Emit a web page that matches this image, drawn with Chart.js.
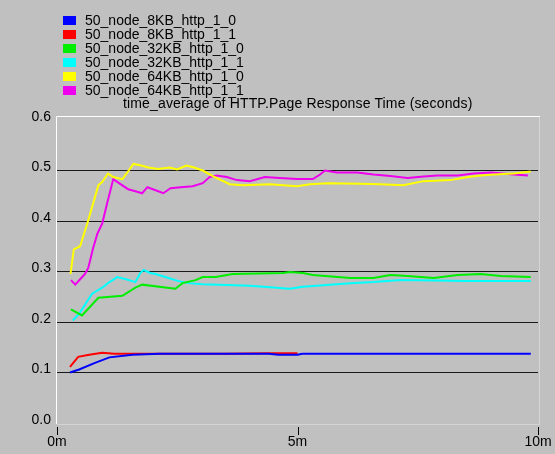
<!DOCTYPE html>
<html>
<head>
<meta charset="utf-8">
<script src="https://cdn.jsdelivr.net/npm/chart.js@4/dist/chart.umd.min.js"></script>
<style>
  body { margin: 0; background: #c0c0c0; }
  #wrap { position: relative; width: 555px; height: 454px; }
  canvas { display: block; }
  #legend { position: absolute; left: 63px; top: 13px; font: 14px Arial, "Liberation Sans", sans-serif; color: #000; }
  .row { height: 14px; line-height: 14px; display: flex; align-items: center; white-space: nowrap; }
  .sw { width: 13px; height: 9px; margin-right: 9px; }
  #title { position: absolute; left: 123px; top: 95px; font: 14px Arial, "Liberation Sans", sans-serif; letter-spacing: 0.15px; color: #000; white-space: nowrap; }
</style>
</head>
<body>
<div id="wrap">
  <canvas id="chart" width="555" height="454"></canvas>
  <div id="legend"></div>
  <div id="title">time_average of HTTP.Page Response Time (seconds)</div>
</div>
<script>
// series names and colours
const seriesNames = ['50_node_8KB_http_1_0', '50_node_8KB_http_1_1', '50_node_32KB_http_1_0',
                     '50_node_32KB_http_1_1', '50_node_64KB_http_1_0', '50_node_64KB_http_1_1'];
const seriesColors = ['#0000ff', '#ff0000', '#00ee00', '#00ffff', '#ffff00', '#ee00ee'];

// axis ticks
const xTicks = [0, 5, 10];
const yTicks = [0, 0.1, 0.2, 0.3, 0.4, 0.5, 0.6];

// each series: sample times (minutes) and values (seconds)
const blueTime  = [0.27, 0.46, 0.79, 1.09, 1.57, 2.13, 4.4, 4.6, 5.0, 5.1, 9.85];
const blueValue = [0.100, 0.106, 0.119, 0.130, 0.135, 0.137, 0.137, 0.135, 0.135, 0.137, 0.137];

const redTime  = [0.27, 0.44, 0.67, 0.94, 1.19, 1.9, 2.6, 3.5, 4.4, 5.0];
const redValue = [0.111, 0.131, 0.135, 0.139, 0.137, 0.137, 0.137, 0.137, 0.138, 0.138];

const greenTime  = [0.29, 0.52, 0.86, 1.36, 1.63, 1.77, 2.46, 2.61, 2.88, 3.03, 3.3, 3.65, 4.7,
                    4.84, 5.11, 5.32, 6.1, 6.58, 6.93, 7.29, 7.83, 8.33, 8.81, 9.23, 9.85];
const greenValue = [0.225, 0.213, 0.248, 0.252, 0.268, 0.274, 0.266, 0.277, 0.283, 0.289, 0.289, 0.295, 0.297,
                    0.299, 0.297, 0.293, 0.287, 0.287, 0.293, 0.291, 0.287, 0.293, 0.295, 0.291, 0.289];

const cyanTime  = [0.33, 0.48, 0.73, 0.94, 1.06, 1.25, 1.42, 1.63, 1.73, 1.8, 1.94, 2.05, 2.32, 2.53,
                   2.73, 3.03, 4.01, 4.84, 5.11, 6.1, 6.58, 7.14, 8.54, 9.85];
const cyanValue = [0.203, 0.219, 0.256, 0.268, 0.277, 0.289, 0.285, 0.279, 0.297, 0.303, 0.297, 0.295, 0.287, 0.281,
                   0.277, 0.275, 0.272, 0.266, 0.270, 0.277, 0.279, 0.283, 0.281, 0.281];

const yellowTime  = [0.28, 0.35, 0.48, 0.63, 0.73, 0.86, 0.94, 1.06, 1.17, 1.36, 1.46, 1.59, 1.75, 1.9, 2.1,
                     2.34, 2.5, 2.69, 2.85, 3.03, 3.24, 3.59, 3.86, 4.43, 4.99, 5.26, 5.62, 6.3, 6.72, 7.2,
                     7.62, 8.18, 8.54, 8.81, 9.08, 9.5, 9.85];
const yellowValue = [0.295, 0.344, 0.350, 0.395, 0.428, 0.471, 0.477, 0.494, 0.487, 0.483, 0.496, 0.513, 0.510, 0.506, 0.503,
                     0.506, 0.502, 0.510, 0.506, 0.500, 0.489, 0.473, 0.471, 0.473, 0.469, 0.473, 0.475, 0.474, 0.473, 0.471,
                     0.479, 0.481, 0.487, 0.490, 0.492, 0.494, 0.498];

const magentaTime  = [0.29, 0.38, 0.58, 0.65, 0.75, 0.84, 0.94, 1.04, 1.17, 1.32, 1.48, 1.63, 1.77, 1.88, 2.05,
                      2.21, 2.36, 2.57, 2.82, 3.03, 3.17, 3.32, 3.53, 3.74, 4.01, 4.32, 4.63, 4.99, 5.32, 5.47,
                      5.57, 5.82, 6.24, 6.58, 6.93, 7.29, 7.62, 7.91, 8.33, 8.66, 9.02, 9.5, 9.79];
const magentaValue = [0.283, 0.274, 0.295, 0.307, 0.346, 0.375, 0.395, 0.434, 0.483, 0.473, 0.463, 0.459, 0.455, 0.467, 0.461,
                      0.455, 0.465, 0.467, 0.469, 0.475, 0.487, 0.490, 0.487, 0.481, 0.479, 0.487, 0.485, 0.483, 0.483, 0.492,
                      0.500, 0.496, 0.496, 0.492, 0.489, 0.485, 0.488, 0.490, 0.490, 0.494, 0.496, 0.492, 0.490];

const allTimes  = [blueTime, redTime, greenTime, cyanTime, yellowTime, magentaTime];
const allValues = [blueValue, redValue, greenValue, cyanValue, yellowValue, magentaValue];

function toPoints(times, values) {
    return times.map((t, i) => ({x: t, y: values[i]}));
}

// html legend, one row per series
let legend = document.getElementById('legend');
seriesNames.forEach((name, i) => {
    let row = document.createElement('div');
    row.className = 'row';
    row.innerHTML = '<span class="sw" style="background:' + seriesColors[i] + '"></span><span>' + name + '</span>';
    legend.appendChild(row);
});

// white top/left edge, light right/bottom edge of the plot box, x tick marks
const frame = {
    id: 'frame',
    beforeDatasetsDraw(chart) {
        let a = chart.chartArea, c = chart.ctx;
        c.save();
        c.lineWidth = 1;
        c.strokeStyle = '#ffffff';
        c.beginPath();
        c.moveTo(a.left - 0.5, a.bottom + 1);
        c.lineTo(a.left - 0.5, a.top - 0.5);
        c.lineTo(a.right + 2, a.top - 0.5);
        c.stroke();
        c.strokeStyle = '#d4d4d4';
        c.beginPath();
        c.moveTo(a.right + 1.5, a.top);
        c.lineTo(a.right + 1.5, a.bottom + 1.5);
        c.lineTo(a.left, a.bottom + 1.5);
        c.stroke();
        c.restore();
    },
    afterDatasetsDraw(chart) {
        let xs = chart.scales.x, c = chart.ctx;
        c.save();
        c.strokeStyle = '#000000';
        c.lineWidth = 1;
        c.beginPath();
        xTicks.forEach(v => {
            let px = Math.round(xs.getPixelForValue(v)) + 0.5;
            c.moveTo(px, xs.top + 4);
            c.lineTo(px, xs.top + 12);
        });
        c.stroke();
        c.restore();
    }
};

const font = {family: 'Arial, "Liberation Sans", sans-serif', size: 14};

let ctx = document.getElementById('chart').getContext('2d');
let chart = new Chart(ctx, {
    type: 'line',
    data: {
        datasets: seriesNames.map((name, i) => ({
            label: name,
            data: toPoints(allTimes[i], allValues[i]),
            borderColor: seriesColors[i],
            backgroundColor: seriesColors[i],
            borderWidth: 2,
            pointRadius: 0,
            tension: 0,
            fill: false
        }))
    },
    options: {
        responsive: false,
        animation: false,
        layout: {padding: {top: 117, left: 0, right: 17, bottom: 0}},
        plugins: {legend: {display: false}, title: {display: false}, tooltip: {enabled: false}},
        scales: {
            x: {
                type: 'linear',
                min: 0,
                max: 10,
                afterFit(s) { s.height = 31; },
                afterBuildTicks(s) { s.ticks = xTicks.map(v => ({value: v})); },
                ticks: {color: '#000', font: font, padding: 0, maxRotation: 0, callback: v => v + 'm'},
                grid: {drawOnChartArea: false, tickLength: 11, color: 'rgba(0,0,0,0)'},
                border: {display: false}
            },
            y: {
                min: 0,
                max: 0.606,
                afterFit(s) { s.width = 57; },
                afterBuildTicks(s) { s.ticks = yTicks.map(v => ({value: v})); },
                ticks: {color: '#000', font: font, padding: 6, labelOffset: -3, callback: v => v.toFixed(1)},
                grid: {
                    drawTicks: false,
                    color: c => (c.tick.value > 0.05 && c.tick.value < 0.55) ? '#1a1a1a' : 'rgba(0,0,0,0)'
                },
                border: {display: false}
            }
        }
    },
    plugins: [frame]
});
</script>
</body>
</html>
